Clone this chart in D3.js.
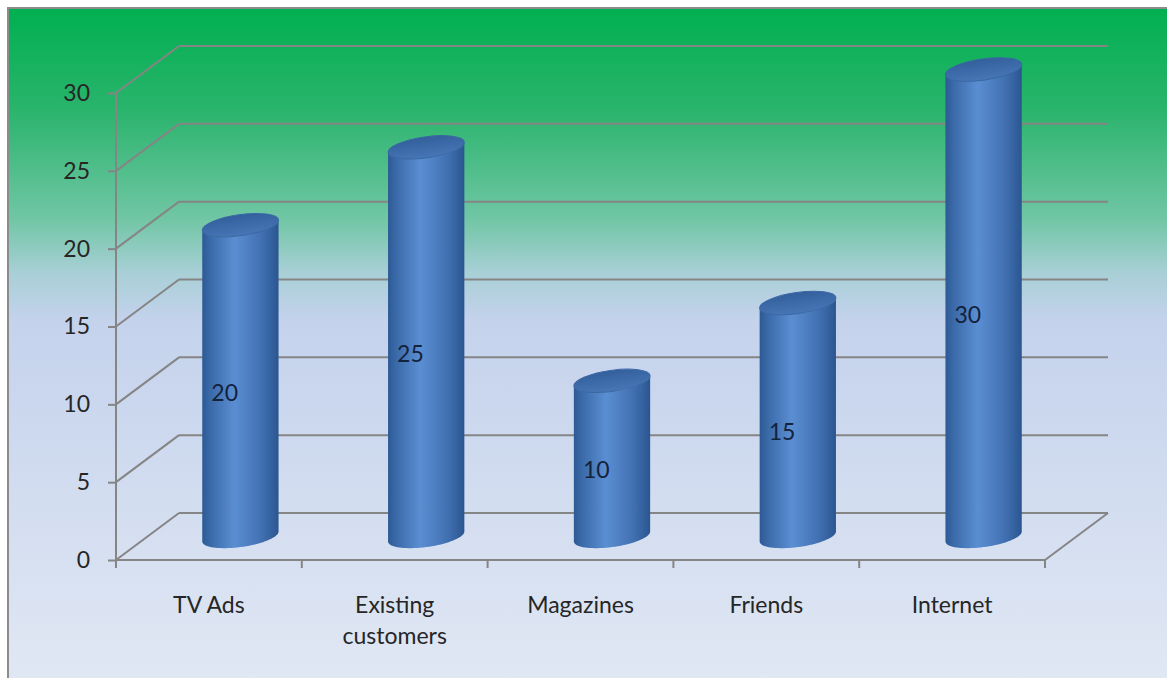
<!DOCTYPE html>
<html>
<head>
<meta charset="utf-8">
<script src="https://cdn.jsdelivr.net/npm/d3@7"></script>
<style>
  html, body { margin: 0; padding: 0; background: #ffffff; }
  svg { display: block; }
  text { font-family: Lato, "Open Sans", sans-serif; }
</style>
</head>
<body>
<svg id="chart" width="1167" height="678"></svg>
<script>
// Survey: how customers heard about us
const categories = ["TV Ads", "Existing customers", "Magazines", "Friends", "Internet"];
const values = [20, 25, 10, 15, 30];
const yTicks = [0, 5, 10, 15, 20, 25, 30];

const W = 1167, H = 678;
const svg = d3.select("#chart");
const defs = svg.append("defs");

// Plot geometry (front plane and depth offset of the 3D box)
const front = { left: 116, right: 1045, bottom: 560, top: 93 };
const depth = { dx: 63, dy: -47 };

const y = d3.scaleLinear().domain([0, 30]).range([front.bottom, front.top]);
const x = d3.scaleBand().domain(categories).range([front.left, front.right]);

// Background panel gradient
const bg = defs.append("linearGradient").attr("id", "bg").attr("x1", 0).attr("y1", 0).attr("x2", 0).attr("y2", 1);
[[0, "#00b050"], [0.15, "#2ab46c"], [0.31, "#70c6a4"], [0.39, "#a8cfd6"], [0.46, "#c4d2ec"], [1, "#e1e8f4"]]
  .forEach(([o, c]) => bg.append("stop").attr("offset", o).attr("stop-color", c));

svg.append("rect").attr("x", 8).attr("y", 8).attr("width", W).attr("height", H)
  .attr("fill", "url(#bg)").attr("stroke", "#8c8c8c").attr("stroke-width", 2);

// Cylinder body gradient
const body = defs.append("linearGradient").attr("id", "cyl").attr("x1", 0).attr("y1", 0).attr("x2", 1).attr("y2", 0);
[[0, "#2d5a95"], [0.1, "#3a69a8"], [0.42, "#5a8ed2"], [0.75, "#4473b5"], [0.92, "#33609d"], [1, "#2a5590"]]
  .forEach(([o, c]) => body.append("stop").attr("offset", o).attr("stop-color", c));
const topG = defs.append("linearGradient").attr("id", "cyltop").attr("x1", 0).attr("y1", 0).attr("x2", 0).attr("y2", 1);
[[0, "#33609c"], [1, "#4775b6"]].forEach(([o, c]) => topG.append("stop").attr("offset", o).attr("stop-color", c));

const grid = svg.append("g").attr("stroke", "#858585").attr("stroke-width", 2).attr("fill", "none");

// Back wall horizontal gridlines and left wall diagonals
yTicks.forEach(v => {
  const yf = y(v);
  grid.append("line")
    .attr("x1", front.left + depth.dx).attr("y1", yf + depth.dy)
    .attr("x2", front.right + depth.dx).attr("y2", yf + depth.dy);
  grid.append("line")
    .attr("x1", front.left).attr("y1", yf)
    .attr("x2", front.left + depth.dx).attr("y2", yf + depth.dy);
});
// Floor: front edge and right edge
grid.append("line").attr("x1", front.left).attr("y1", y(0)).attr("x2", front.right).attr("y2", y(0));
grid.append("line").attr("x1", front.right).attr("y1", y(0))
  .attr("x2", front.right + depth.dx).attr("y2", y(0) + depth.dy);
// Front vertical axis
grid.append("line").attr("x1", front.left).attr("y1", y(0)).attr("x2", front.left).attr("y2", y(30));

// Y axis ticks and labels
const yAxis = svg.append("g").attr("transform", `translate(${front.left},0)`)
  .call(d3.axisLeft(y).tickValues(yTicks).tickSize(8).tickPadding(18).tickFormat(d3.format("d")));
yAxis.select(".domain").remove();
yAxis.selectAll(".tick line").attr("stroke", "#858585").attr("stroke-width", 2);
yAxis.selectAll(".tick text").attr("fill", "#262626").style("font-size", "23px")
  .style("font-family", "Lato, 'Open Sans', sans-serif");

// X axis: boundary ticks and centred category labels
const bounds = categories.map(c => x(c)).concat([front.right]);
svg.append("g").selectAll("line").data(bounds).join("line")
  .attr("x1", d => d).attr("x2", d => d).attr("y1", y(0)).attr("y2", y(0) + 8)
  .attr("stroke", "#858585").attr("stroke-width", 2);

const labelG = svg.append("g").attr("fill", "#262626").style("font-size", "23px").attr("text-anchor", "middle");
categories.forEach(c => {
  const words = c === "Existing customers" ? ["Existing", "customers"] : [c];
  const t = labelG.append("text").attr("x", x(c) + x.bandwidth() / 2).attr("y", 613);
  words.forEach((w, i) => t.append("tspan").attr("x", x(c) + x.bandwidth() / 2).attr("dy", i ? 31 : 0).text(w));
});

// Cylinders, placed half-way into the depth of the box
const rx = 38.5, ry = 10.5, tilt = -8 * Math.PI / 180;
const ct = Math.cos(tilt), st = Math.sin(tilt);
function ellPt(cx, cy, t) {
  return [cx + rx * Math.cos(t) * ct - ry * Math.sin(t) * st,
          cy + rx * Math.cos(t) * st + ry * Math.sin(t) * ct];
}
// parameter of the leftmost / rightmost tangent of the tilted ellipse
const t0 = Math.atan2(-ry * st, rx * ct);
const line = d3.line();

const bars = svg.append("g");
categories.forEach((c, i) => {
  const v = values[i];
  const cx = x(c) + x.bandwidth() / 2 + depth.dx * 0.5;
  const yb = y(0) + depth.dy * 0.5;
  const yt = y(v) + depth.dy * 0.5;
  // body outline: right tangent at top, down, bottom front arc, up to left tangent at top
  const pts = [];
  const nS = 40;
  for (let k = 0; k <= nS; k++) pts.push(ellPt(cx, yb, t0 + Math.PI * k / nS));
  for (let k = 0; k <= nS; k++) pts.push(ellPt(cx, yt, t0 + Math.PI - Math.PI * k / nS));
  bars.append("path").attr("d", line(pts) + "Z").attr("fill", "url(#cyl)");
  bars.append("ellipse").attr("cx", cx).attr("cy", yt).attr("rx", rx).attr("ry", ry)
    .attr("transform", `rotate(${tilt * 180 / Math.PI},${cx},${yt})`)
    .attr("fill", "url(#cyltop)").attr("stroke", "#3a67a4").attr("stroke-width", 1);
  // value label
  bars.append("text")
    .attr("x", x(c) + x.bandwidth() / 2 + depth.dx * 0.25)
    .attr("y", y(v / 2) + depth.dy * 0.25)
    .attr("dy", "0.35em").attr("text-anchor", "middle")
    .attr("fill", "#14223c").style("font-size", "23px")
    .text(v);
});
</script>
</body>
</html>
